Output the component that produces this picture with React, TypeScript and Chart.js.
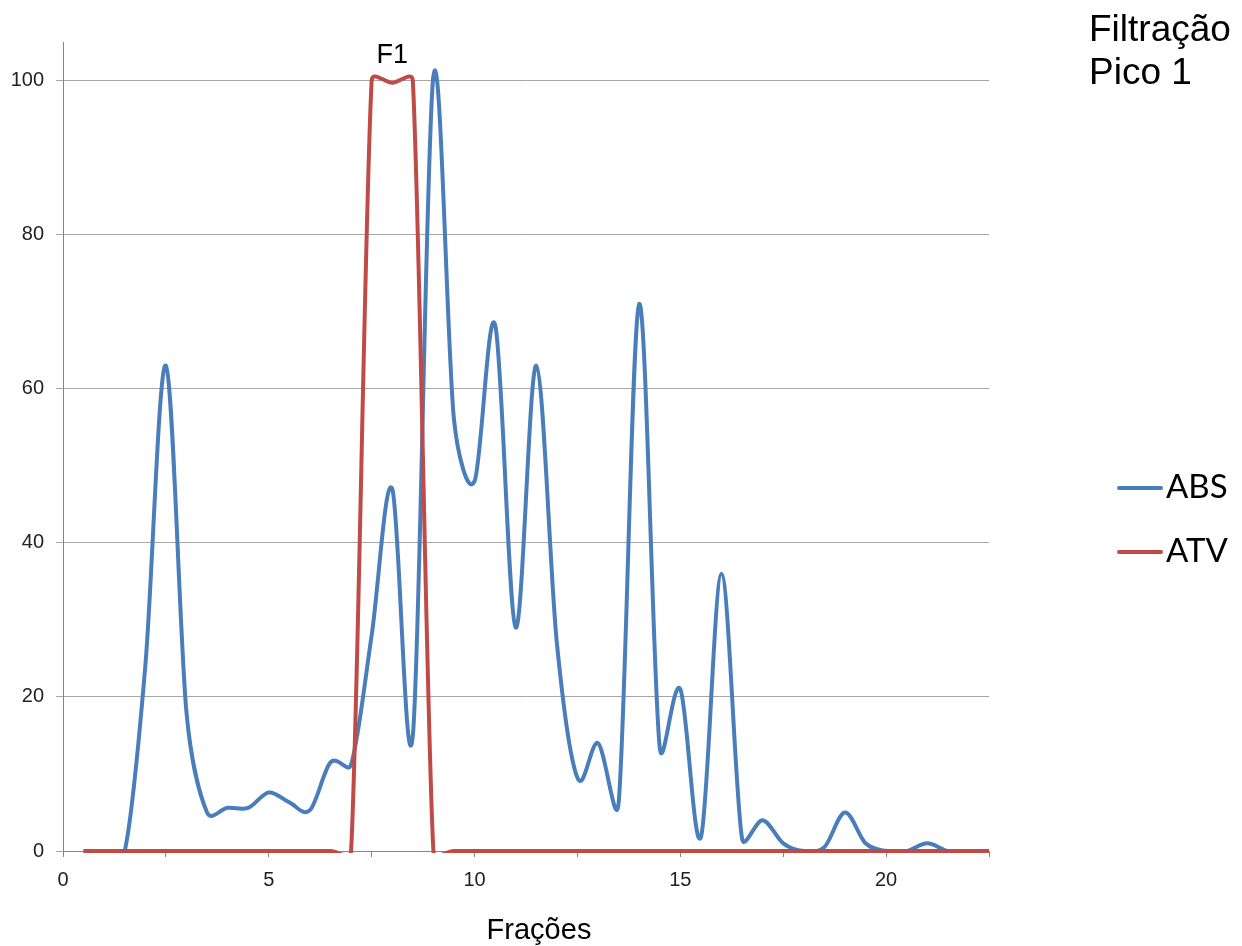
import { useEffect, useRef } from 'react';
import { Chart, registerables } from 'chart.js';

Chart.register(...registerables);

// Fraction numbers (x) and the two measured series
const fractions = [
  0.5, 1, 1.5, 2, 2.5, 3, 3.5, 4, 4.5, 5, 5.5, 6, 6.5, 7, 7.5, 8, 8.5, 9, 9.5, 10, 10.5, 11, 11.5,
  12, 12.5, 13, 13.5, 14, 14.5, 15, 15.5, 16, 16.5, 17, 17.5, 18, 18.5, 19, 19.5, 20, 20.5, 21, 21.5, 22, 22.5,
];
const absValues = [
  0, 0, 0, 24, 63, 18, 5, 5.6, 5.6, 7.6, 6.3, 5.3, 11.5, 11.2, 28, 47, 15, 100.6, 56, 48, 68.3, 29, 63,
  27, 9.5, 14, 6.2, 71, 13.4, 21, 1.8, 36, 1.6, 4, 1, 0, 0.5, 5, 1, 0, 0, 1, 0, 0, 0,
];
const atvValues = [
  0, 0, 0, 0, 0, 0, 0, 0, 0, 0, 0, 0, 0, 0, 100, 99.7, 100, 0, 0, 0, 0, 0, 0,
  0, 0, 0, 0, 0, 0, 0, 0, 0, 0, 0, 0, 0, 0, 0, 0, 0, 0, 0, 0, 0, 0,
];

const seriesNames = ['ABS', 'ATV'];
const seriesColors = ['#4A7EBB', '#BE4B48'];
const titleLines = ['Filtração', 'Pico 1'];
const peakLabel = 'F1';
const peakLabelAt = 8;
const xAxisTitle = 'Frações';
const xMin = 0;
const xMax = 22.5;
const xStep = 2.5;
const xLabelEvery = 5;
const yMin = 0;
const yMax = 105;
const yStep = 20;

const ARIAL = '"Liberation Sans", Arial, sans-serif';

// Spreadsheet-style smoothing: control points lie 1/6 of the neighbour span
// away from each point, shortened to half the segment length on short hops.
const spreadsheetSmoothing = {
  id: 'spreadsheetSmoothing',
  beforeDatasetDraw(chart: any, args: any) {
    const meta = args.meta;
    const line = meta.dataset;
    if (!line) return;
    line.updateControlPoints(chart.chartArea, 'x');
    const pts = meta.data;
    for (let i = 0; i < pts.length; i++) {
      const p = pts[i];
      const a = pts[i - 1] || p;
      const b = pts[i + 1] || p;
      const vx = b.x - a.x;
      const vy = b.y - a.y;
      const d02 = Math.hypot(vx, vy);
      const dPrev = Math.hypot(p.x - a.x, p.y - a.y);
      const dNext = Math.hypot(b.x - p.x, b.y - p.y);
      let fPrev = 1 / 6;
      let fNext = 1 / 6;
      if (d02 > 0) {
        if (d02 / 6 >= dPrev / 2) fPrev = dPrev / 2 / d02;
        if (d02 / 6 >= dNext / 2) fNext = dNext / 2 / d02;
      }
      p.cp1x = p.x - fPrev * vx;
      p.cp1y = p.y - fPrev * vy;
      p.cp2x = p.x + fNext * vx;
      p.cp2y = p.y + fNext * vy;
    }
  },
};

// Title, peak label, axis title and legend
const chartTexts = {
  id: 'chartTexts',
  afterDraw(chart: any) {
    const { ctx, scales } = chart;
    ctx.save();
    ctx.fillStyle = '#000';
    ctx.textBaseline = 'alphabetic';

    ctx.textAlign = 'left';
    ctx.font = `37px ${ARIAL}`;
    ctx.fillText(titleLines[0], 1089, 41);
    ctx.fillText(titleLines[1], 1089, 84);

    ctx.textAlign = 'center';
    ctx.font = `27px ${ARIAL}`;
    ctx.fillText(peakLabel, scales.x.getPixelForValue(peakLabelAt), 63);

    ctx.font = `29px ${ARIAL}`;
    ctx.fillText(xAxisTitle, 539, 939);

    ctx.textAlign = 'left';
    ctx.font = '33px Lato, "Open Sans", sans-serif';
    ctx.lineWidth = 4;
    ctx.lineCap = 'round';
    const rows = [488, 552];
    seriesNames.forEach((name, i) => {
      ctx.strokeStyle = seriesColors[i];
      ctx.beginPath();
      ctx.moveTo(1119, rows[i]);
      ctx.lineTo(1161, rows[i]);
      ctx.stroke();
      ctx.fillText(name, 1166, rows[i] + 10);
    });
    ctx.restore();
  },
};

export default function App() {
  const canvasRef = useRef<HTMLCanvasElement | null>(null);

  useEffect(() => {
    const canvas = canvasRef.current;
    if (!canvas) return;
    const series = [absValues, atvValues];
    const chart = new Chart(canvas, {
      type: 'line',
      data: {
        datasets: series.map((vals, i) => ({
          label: seriesNames[i],
          data: fractions.map((x, j) => ({ x, y: vals[j] })),
          borderColor: seriesColors[i],
          backgroundColor: seriesColors[i],
          borderWidth: 4,
          pointRadius: 0,
          tension: 0.3,
          fill: false,
          order: i === 0 ? 2 : 1,
          clip: { left: 4, right: 4, top: 8, bottom: 2 },
        })),
      },
      options: {
        responsive: false,
        maintainAspectRatio: false,
        devicePixelRatio: 1,
        animation: false,
        events: [],
        layout: { padding: { left: 0, right: 253, top: 42, bottom: 0 } },
        elements: { line: { capBezierPoints: false, borderCapStyle: 'butt', borderJoinStyle: 'round' } },
        plugins: { legend: { display: false }, tooltip: { enabled: false }, title: { display: false } },
        scales: {
          x: {
            type: 'linear',
            min: xMin,
            max: xMax,
            afterFit: (scale: any) => {
              scale.height = 95;
            },
            ticks: {
              stepSize: xStep,
              autoSkip: false,
              maxRotation: 0,
              includeBounds: false,
              padding: 11,
              color: '#222',
              font: { family: ARIAL, size: 20 },
              callback: (v: any) => (Number(v) % xLabelEvery === 0 ? String(v) : ''),
            },
            grid: { drawOnChartArea: false, drawTicks: true, tickLength: 6, color: '#868686' },
            border: { color: '#868686', width: 1 },
          },
          y: {
            type: 'linear',
            min: yMin,
            max: yMax,
            afterFit: (scale: any) => {
              scale.width = 63;
            },
            ticks: {
              stepSize: yStep,
              includeBounds: false,
              padding: 12,
              color: '#222',
              font: { family: ARIAL, size: 20 },
            },
            grid: { color: '#A6A6A6', tickLength: 7, drawTicks: true },
            border: { color: '#868686', width: 1 },
          },
        },
      },
      plugins: [spreadsheetSmoothing, chartTexts],
    });
    return () => chart.destroy();
  }, []);

  return (
    <div style={{ position: 'absolute', left: 0, top: 0, width: 1242, height: 946, background: '#fff' }}>
      <canvas ref={canvasRef} width={1242} height={946} style={{ display: 'block' }} />
    </div>
  );
}
